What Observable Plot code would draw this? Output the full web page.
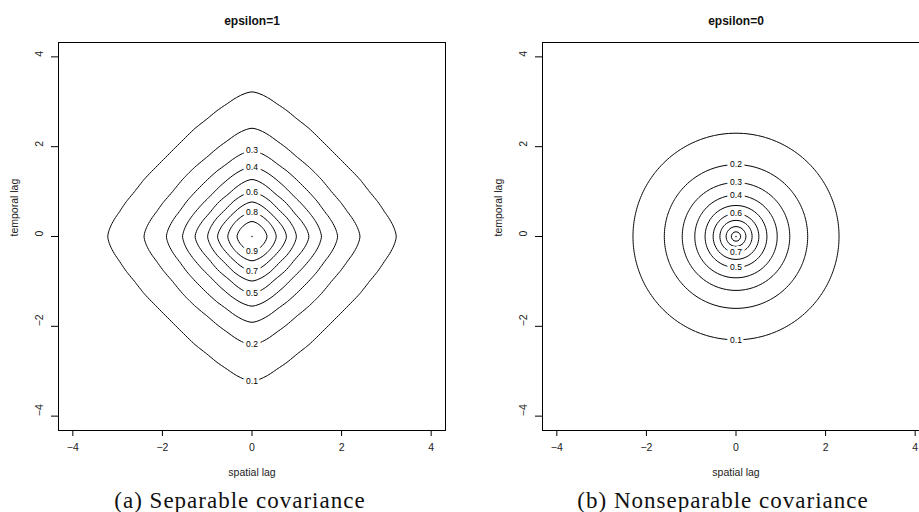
<!DOCTYPE html>
<html>
<head>
<meta charset="utf-8">
<script src="https://cdn.jsdelivr.net/npm/d3@7"></script>
<script src="https://cdn.jsdelivr.net/npm/@observablehq/plot@0.6"></script>
<style>
  html, body { margin: 0; padding: 0; background: white; }
  #page { position: relative; width: 919px; height: 512px; overflow: hidden; background: white; }
  .panel { position: absolute; top: 0; height: 480px; }
  .panel svg { max-width: none !important; display: block; }
  .cap { position: absolute; top: 488px; text-align: center; font-family: "Liberation Serif", "Times New Roman", serif;
         font-size: 23px; line-height: 26px; letter-spacing: 1px; color: #111; white-space: nowrap; }
</style>
</head>
<body>
<div id="page">
  <div class="panel" id="left" style="left:0px; width:459px"></div>
  <div class="panel" id="right" style="left:459px; width:480px"></div>
  <div class="cap" style="left:0px; width:480px">(a) Separable covariance</div>
  <div class="cap" style="left:493px; width:460px">(b) Nonseparable covariance</div>
</div>
<script>
// ---- data ----
const xTicks = [-4, -2, 0, 2, 4];
const yTicks = [-4, -2, 0, 2, 4];
const levels = [0.1, 0.2, 0.3, 0.4, 0.5, 0.6, 0.7, 0.8, 0.9];
// lag (along an axis) at which each contour level is crossed
const sepRadius    = [3.22, 2.41, 1.91, 1.55, 1.27, 0.99, 0.77, 0.54, 0.335];
const nonsepRadius = [2.30, 1.60, 1.20, 0.92, 0.69, 0.51, 0.36, 0.22, 0.105];
// where R put each contour label (above / below the centre, or not shown)
const sepLabelSide    = ["below", "below", "above", "above", "below", "above", "below", "above", "below"];
const nonsepLabelSide = ["below", "above", "above", "above", "below", "above", "below", null, null];
const peakLevel = 1.0;   // the covariance at lag 0 (drawn as a dot)
const centerLag = 0;
const titles = ["epsilon=1", "epsilon=0"];
const xLabel = "spatial lag";
const yLabel = "temporal lag";
const lagDomain = [-4.32, 4.32];

// marginal correlation built by interpolating the read crossings (log-log of -ln C vs lag)
function marginal(radii) {
  const pts = levels.map((c, i) => ({lr: Math.log(radii[i]), ls: Math.log(-Math.log(c))}))
                    .sort((a, b) => a.lr - b.lr);
  return r => {
    if (r <= 0) return peakLevel;
    const lr = Math.log(r);
    let i = 0;
    while (i < pts.length - 2 && lr > pts[i + 1].lr) i++;
    const a = pts[i], b = pts[i + 1];
    const ls = a.ls + (b.ls - a.ls) * (lr - a.lr) / (b.lr - a.lr);
    return peakLevel * Math.exp(-Math.exp(ls));
  };
}
const gSep = marginal(sepRadius);
const gNon = marginal(nonsepRadius);
const sepField = (x, y) => gSep(Math.abs(x)) * gSep(Math.abs(y));
const nonField = (x, y) => gNon(Math.hypot(x, y));

function labelsFor(radii, sides) {
  return levels.map((c, i) => ({label: String(c), x: centerLag,
      y: sides[i] === "above" ? centerLag + radii[i] : centerLag - radii[i], side: sides[i]}))
    .filter(d => d.side);
}

const fmt = d3.format("d");

function panel({title, field, labels, width, marginLeft, marginRight}) {
  return Plot.plot({
    width, height: 480,
    marginLeft, marginRight, marginTop: 42, marginBottom: 50,
    x: {domain: lagDomain, axis: null},
    y: {domain: lagDomain, axis: null},
    style: {fontFamily: "'Liberation Sans', Arial, Helvetica, sans-serif", fontSize: "10.5px",
            background: "white", color: "black", overflow: "visible", maxWidth: "none"},
    marks: [
      Plot.contour({value: field, x1: lagDomain[0], x2: lagDomain[1], y1: lagDomain[0], y2: lagDomain[1],
                    thresholds: levels, fill: "none", stroke: "black", strokeWidth: 1}),
      Plot.dot([centerLag], {x: d => d, y: d => d, r: 0.7, fill: "black", stroke: null}),
      Plot.text(labels, {x: "x", y: "y", text: "label", fontSize: 8.5, fill: "black",
                         stroke: "white", strokeWidth: 6, paintOrder: "stroke"}),
      Plot.frame({stroke: "black", strokeWidth: 1}),
      Plot.axisX({ticks: xTicks, tickSize: 6, tickFormat: () => "", label: null, stroke: "black"}),
      Plot.axisY({ticks: yTicks, tickSize: 7, tickFormat: () => "", label: null, stroke: "black"}),
      Plot.text(xTicks, {x: d => d, frameAnchor: "bottom", dy: 20, text: d => fmt(d), fill: "#222"}),
      Plot.text(yTicks, {y: d => d, frameAnchor: "left", dx: -19, rotate: -90, text: d => fmt(d), fill: "#222"}),
      Plot.text([xLabel], {frameAnchor: "bottom", dy: 45, text: d => d, fill: "#222"}),
      Plot.text([yLabel], {frameAnchor: "left", dx: -44, rotate: -90, text: d => d, fill: "#222"}),
      Plot.text([title], {frameAnchor: "top", dy: -26, text: d => d, fontWeight: "bold", fontSize: 12, fill: "#111"})
    ]
  });
}

document.getElementById("left").append(panel({
  title: titles[0], field: sepField, labels: labelsFor(sepRadius, sepLabelSide),
  width: 459, marginLeft: 58, marginRight: 14
}));
document.getElementById("right").append(panel({
  title: titles[1], field: nonField, labels: labelsFor(nonsepRadius, nonsepLabelSide),
  width: 480, marginLeft: 83, marginRight: 10
}));
</script>
</body>
</html>
